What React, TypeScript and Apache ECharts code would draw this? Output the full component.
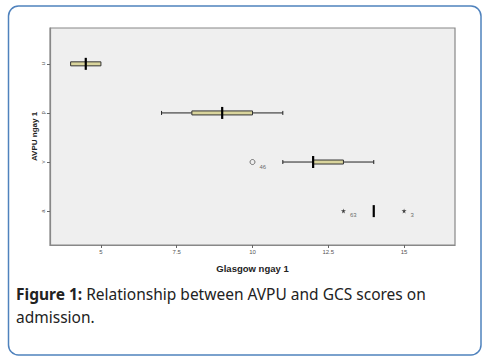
import React, { useEffect, useRef } from "react";
import * as echarts from "echarts";

// AVPU categories plotted bottom (1) to top (4)
const categories = ["a", "v", "p", "u"];
const catLevels = [1, 2, 3, 4];
// Box plot statistics (Glasgow score)
const whiskerLow = [14, 11, 7, 4];
const q1 = [14, 12, 8, 4];
const median = [14, 12, 9, 4.5];
const q3 = [14, 13, 10, 5];
const whiskerHigh = [14, 14, 11, 5];
// Outliers
const outlierX = [10];
const outlierY = [2];
const outlierLabels = ["46"];
const extremeX = [13, 15];
const extremeY = [1, 1];
const extremeLabels = ["63", "3"];
const xTicks = [5, 7.5, 10, 12.5, 15];

const ASTERISK =
  "path://M5 0 L6 3.5 L10 3.5 L6.8 5.8 L8 10 L5 7.4 L2 10 L3.2 5.8 L0 3.5 L4 3.5 Z";

export default function App() {
  const ref = useRef<HTMLDivElement>(null);
  useEffect(() => {
    if (!ref.current) return;
    const chart = echarts.init(ref.current, undefined, { renderer: "svg" });
    const boxData = catLevels.map((y, i) => [
      y,
      whiskerLow[i],
      q1[i],
      median[i],
      q3[i],
      whiskerHigh[i],
    ]);
    const renderBox = (params: any, api: any) => {
      const y = api.value(0);
      const lo = api.value(1);
      const a = api.value(2);
      const m = api.value(3);
      const b = api.value(4);
      const hi = api.value(5);
      const pLo = api.coord([lo, y]);
      const pA = api.coord([a, y]);
      const pM = api.coord([m, y]);
      const pB = api.coord([b, y]);
      const pHi = api.coord([hi, y]);
      const cy = pM[1];
      const children: any[] = [];
      const wStyle = { stroke: "#222", lineWidth: 1 };
      if (lo < a) {
        children.push({ type: "line", shape: { x1: pLo[0], y1: cy, x2: pA[0], y2: cy }, style: wStyle });
        children.push({ type: "line", shape: { x1: pLo[0], y1: cy - 2, x2: pLo[0], y2: cy + 2 }, style: wStyle });
      }
      if (hi > b) {
        children.push({ type: "line", shape: { x1: pB[0], y1: cy, x2: pHi[0], y2: cy }, style: wStyle });
        children.push({ type: "line", shape: { x1: pHi[0], y1: cy - 2, x2: pHi[0], y2: cy + 2 }, style: wStyle });
      }
      if (b > a) {
        children.push({
          type: "rect",
          shape: { x: pA[0], y: cy - 2, width: pB[0] - pA[0], height: 4 },
          style: { fill: "#d9d49c", stroke: "#333", lineWidth: 1 },
        });
      }
      children.push({
        type: "line",
        shape: { x1: pM[0], y1: cy - 6, x2: pM[0], y2: cy + 6 },
        style: { stroke: "#000", lineWidth: 2.2 },
      });
      return { type: "group", children };
    };
    const tickFont = { fontSize: 6, color: "#555", fontFamily: "Liberation Sans" };
    chart.setOption({
      animation: false,
      backgroundColor: "#fff",
      grid: {
        left: 50,
        top: 28,
        width: 405,
        height: 217,
        show: true,
        backgroundColor: "#efefef",
        borderColor: "#888",
        borderWidth: 1.2,
      },
      xAxis: {
        type: "value",
        min: 3.32,
        max: 16.68,
        name: "Glasgow ngay 1",
        nameLocation: "middle",
        nameGap: 18,
        nameMoveOverlap: false,
        nameTextStyle: { fontSize: 9.5, fontWeight: "bold", color: "#222", fontFamily: "Liberation Sans" },
        axisLine: { show: true, lineStyle: { color: "#888", width: 1.2 } },
        axisTick: { show: true, customValues: xTicks, length: 3, lineStyle: { color: "#666" } },
        axisLabel: {
          customValues: xTicks,
          margin: 4,
          ...tickFont,
          formatter: (v: number) => String(v),
        },
        splitLine: { show: false },
      },
      yAxis: {
        type: "value",
        min: 0.31,
        max: 4.73,
        name: "AVPU ngay 1",
        nameLocation: "middle",
        nameGap: 12,
        nameMoveOverlap: false,
        nameRotate: 90,
        nameTextStyle: { fontSize: 8, fontWeight: "bold", color: "#222", fontFamily: "Liberation Sans" },
        axisLine: { show: true, lineStyle: { color: "#888", width: 1.2 } },
        axisTick: { show: true, customValues: catLevels, length: 3, lineStyle: { color: "#666" } },
        axisLabel: {
          customValues: catLevels,
          rotate: 90,
          margin: 4,
          ...tickFont,
          formatter: (v: number) => categories[Math.round(v) - 1] ?? "",
        },
        splitLine: { show: false },
      },
      series: [
        {
          type: "custom",
          renderItem: renderBox,
          data: boxData,
          encode: { x: [1, 2, 3, 4, 5], y: 0 },
          z: 3,
        },
        {
          type: "scatter",
          symbol: "circle",
          symbolSize: 5,
          itemStyle: { color: "transparent", borderColor: "#333", borderWidth: 0.8 },
          data: outlierX.map((x, i) => ({ value: [x, outlierY[i]], name: outlierLabels[i] })),
          label: {
            show: true,
            formatter: (p: any) => p.name,
            position: "right",
            offset: [-1, 5],
            fontSize: 6,
            fontFamily: "Liberation Sans",
            color: "#444",
          },
          z: 4,
        },
        {
          type: "scatter",
          symbol: ASTERISK,
          symbolSize: 5,
          itemStyle: { color: "#111" },
          data: extremeX.map((x, i) => ({ value: [x, extremeY[i]], name: extremeLabels[i] })),
          label: {
            show: true,
            formatter: (p: any) => p.name,
            position: "right",
            offset: [-1, 4],
            fontSize: 6,
            fontFamily: "Liberation Sans",
            color: "#444",
          },
          z: 4,
        },
      ],
      graphic: [
        {
          type: "rect",
          shape: { x: 8.5, y: 6, width: 472.5, height: 349, r: 10 },
          style: { fill: "none", stroke: "#4f82bd", lineWidth: 1.5 },
          silent: true,
        },
        {
          type: "text",
          left: 16,
          top: 282,
          style: {
            text: "{b|Figure 1:} Relationship between AVPU and GCS scores on\nadmission.",
            fontSize: 15.5,
            lineHeight: 23,
            fontFamily: "Noto Sans",
            fill: "#222",
            rich: {
              b: { fontWeight: "bold", fontSize: 15.5, fontFamily: "Noto Sans", fill: "#222" },
            },
          },
        },
      ],
    });
    return () => chart.dispose();
  }, []);
  return (
    <div
      ref={ref}
      style={{ position: "fixed", left: 0, top: 0, width: 489, height: 362 }}
    />
  );
}
